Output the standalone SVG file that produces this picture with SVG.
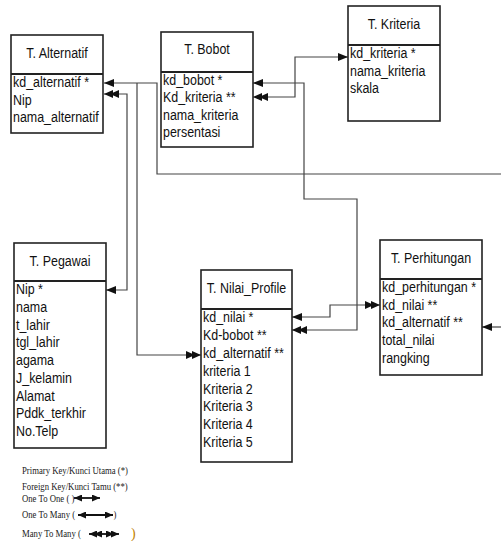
<svg xmlns="http://www.w3.org/2000/svg" width="501" height="541" viewBox="0 0 501 541">
<style>
.box{fill:#fff;stroke:#222;stroke-width:1.6}
.hd{stroke:#222;stroke-width:2}
.t{font-family:"Liberation Sans",Arial,sans-serif;font-size:15px;fill:#111}
.c{text-anchor:middle}
.lg{font-family:"Liberation Serif","Times New Roman",serif;font-size:10.5px;fill:#1a1a1a}
.ln{fill:none;stroke:#444;stroke-width:1.2}
.lgl{fill:none;stroke:#111;stroke-width:1.8}
</style>
<defs>
<marker id="a1" viewBox="0 0 10 8" refX="10" refY="4" markerWidth="10" markerHeight="8" markerUnits="userSpaceOnUse" orient="auto-start-reverse"><path d="M0,0 L10,4 L0,8 Z" fill="#111"/></marker>
<marker id="a2" viewBox="0 0 15 8" refX="15" refY="4" markerWidth="15" markerHeight="8" markerUnits="userSpaceOnUse" orient="auto-start-reverse"><path d="M0,0 L9,4 L0,8 Z M6,0 L15,4 L6,8 Z" fill="#111"/></marker>
<marker id="s1" viewBox="0 0 8 7" refX="8" refY="3.5" markerWidth="8" markerHeight="7" markerUnits="userSpaceOnUse" orient="auto-start-reverse"><path d="M0,0 L8,3.5 L0,7 Z" fill="#111"/></marker>
<marker id="s2" viewBox="0 0 13 7" refX="13" refY="3.5" markerWidth="13" markerHeight="7" markerUnits="userSpaceOnUse" orient="auto-start-reverse"><path d="M0,0 L8,3.5 L0,7 Z M5,0 L13,3.5 L5,7 Z" fill="#111"/></marker>
</defs>
<rect width="501" height="541" fill="#fff"/>

<g id="connectors">
<path class="ln" d="M501,174 H157 V83 H104" marker-end="url(#a1)"/>
<path class="ln" d="M137,83 V355 H201" marker-end="url(#a2)"/>
<path class="ln" d="M104,94 H127 V290 H106" marker-start="url(#a2)" marker-end="url(#a1)"/>
<path class="ln" d="M253,97 H295 V57 H348" marker-start="url(#a2)" marker-end="url(#a1)"/>
<path class="ln" d="M253,83 H304 V199 H357 V330 H292" marker-start="url(#a1)" marker-end="url(#a2)"/>
<path class="ln" d="M292,317 H330 V305 H380" marker-start="url(#a1)" marker-end="url(#a2)"/>
<path class="ln" d="M501,327 H482" marker-end="url(#a1)"/>
</g>

<g id="alternatif">
<rect class="box" x="11" y="35" width="92" height="98"/>
<line class="hd" x1="11" y1="74" x2="103" y2="74"/>
<text class="t c" transform="translate(57,57.5) scale(0.83,1)">T. Alternatif</text>
<text class="t" transform="translate(13,87) scale(0.83,1)">kd_alternatif *</text>
<text class="t" transform="translate(13,104.5) scale(0.83,1)">Nip</text>
<text class="t" transform="translate(13,122) scale(0.83,1)">nama_alternatif</text>
</g>

<g id="bobot">
<rect class="box" x="161" y="32" width="92" height="115"/>
<line class="hd" x1="161" y1="72" x2="253" y2="72"/>
<text class="t c" transform="translate(207,54) scale(0.83,1)">T. Bobot</text>
<text class="t" transform="translate(163,84.5) scale(0.83,1)">kd_bobot *</text>
<text class="t" transform="translate(163,102) scale(0.83,1)">Kd_kriteria **</text>
<text class="t" transform="translate(163,119.5) scale(0.83,1)">nama_kriteria</text>
<text class="t" transform="translate(163,137) scale(0.83,1)">persentasi</text>
</g>

<g id="kriteria">
<rect class="box" x="348" y="6" width="92" height="115"/>
<line class="hd" x1="348" y1="45" x2="440" y2="45"/>
<text class="t c" transform="translate(394,28.5) scale(0.83,1)">T. Kriteria</text>
<text class="t" transform="translate(350,57.5) scale(0.83,1)">kd_kriteria *</text>
<text class="t" transform="translate(350,75.5) scale(0.83,1)">nama_kriteria</text>
<text class="t" transform="translate(350,93) scale(0.83,1)">skala</text>
</g>

<g id="pegawai">
<rect class="box" x="14" y="243" width="92" height="205"/>
<line class="hd" x1="14" y1="281" x2="106" y2="281"/>
<text class="t c" transform="translate(60,266) scale(0.83,1)">T. Pegawai</text>
<text class="t" transform="translate(16,294) scale(0.83,1)">Nip *</text>
<text class="t" transform="translate(16,311.75) scale(0.83,1)">nama</text>
<text class="t" transform="translate(16,329.5) scale(0.83,1)">t_lahir</text>
<text class="t" transform="translate(16,347.25) scale(0.83,1)">tgl_lahir</text>
<text class="t" transform="translate(16,365) scale(0.83,1)">agama</text>
<text class="t" transform="translate(16,382.75) scale(0.83,1)">J_kelamin</text>
<text class="t" transform="translate(16,400.5) scale(0.83,1)">Alamat</text>
<text class="t" transform="translate(16,418.25) scale(0.83,1)">Pddk_terkhir</text>
<text class="t" transform="translate(16,436) scale(0.83,1)">No.Telp</text>
</g>

<g id="nilai_profile">
<rect class="box" x="201" y="270" width="91" height="192"/>
<line class="hd" x1="201" y1="309" x2="292" y2="309"/>
<text class="t c" transform="translate(246.5,293) scale(0.83,1)">T. Nilai_Profile</text>
<text class="t" transform="translate(203,321.7) scale(0.83,1)">kd_nilai *</text>
<text class="t" transform="translate(203,339.6) scale(0.83,1)">Kd-bobot **</text>
<text class="t" transform="translate(203,357.6) scale(0.83,1)">kd_alternatif **</text>
<text class="t" transform="translate(203,375.5) scale(0.83,1)">kriteria 1</text>
<text class="t" transform="translate(203,393.5) scale(0.83,1)">Kriteria 2</text>
<text class="t" transform="translate(203,411.4) scale(0.83,1)">Kriteria 3</text>
<text class="t" transform="translate(203,429.4) scale(0.83,1)">Kriteria 4</text>
<text class="t" transform="translate(203,447.3) scale(0.83,1)">Kriteria 5</text>
</g>

<g id="perhitungan">
<rect class="box" x="380" y="240" width="102" height="135"/>
<line class="hd" x1="380" y1="279" x2="482" y2="279"/>
<text class="t c" transform="translate(431,263) scale(0.83,1)">T. Perhitungan</text>
<text class="t" transform="translate(382,291.7) scale(0.83,1)">kd_perhitungan *</text>
<text class="t" transform="translate(382,309.5) scale(0.83,1)">kd_nilai **</text>
<text class="t" transform="translate(382,327.3) scale(0.83,1)">kd_alternatif **</text>
<text class="t" transform="translate(382,345.1) scale(0.83,1)">total_nilai</text>
<text class="t" transform="translate(382,363) scale(0.83,1)">rangking</text>
</g>

<g id="legend">
<text class="lg" transform="translate(22,473.5) scale(0.83,1)">Primary Key/Kunci Utama (*)</text>
<text class="lg" transform="translate(22,489.5) scale(0.83,1)">Foreign Key/Kunci Tamu (**)</text>
<text class="lg" transform="translate(22,502) scale(0.83,1)">One To One ( )</text>
<path class="lgl" d="M74,498 H100" marker-start="url(#s1)" marker-end="url(#s1)"/>
<text class="lg" transform="translate(22,518) scale(0.83,1)">One To Many (</text>
<path class="lgl" d="M78,515 H113" marker-start="url(#s1)" marker-end="url(#s1)"/>
<text class="lg" transform="translate(113.5,518) scale(0.83,1)">)</text>
<text class="lg" transform="translate(22,536.5) scale(0.83,1)">Many To Many (</text>
<path class="lgl" d="M89,534 H119" marker-start="url(#s2)" marker-end="url(#s2)"/>
<text class="lg" transform="translate(131,537.5)" style="font-size:14px;fill:#c08000">)</text>
</g>
</svg>
